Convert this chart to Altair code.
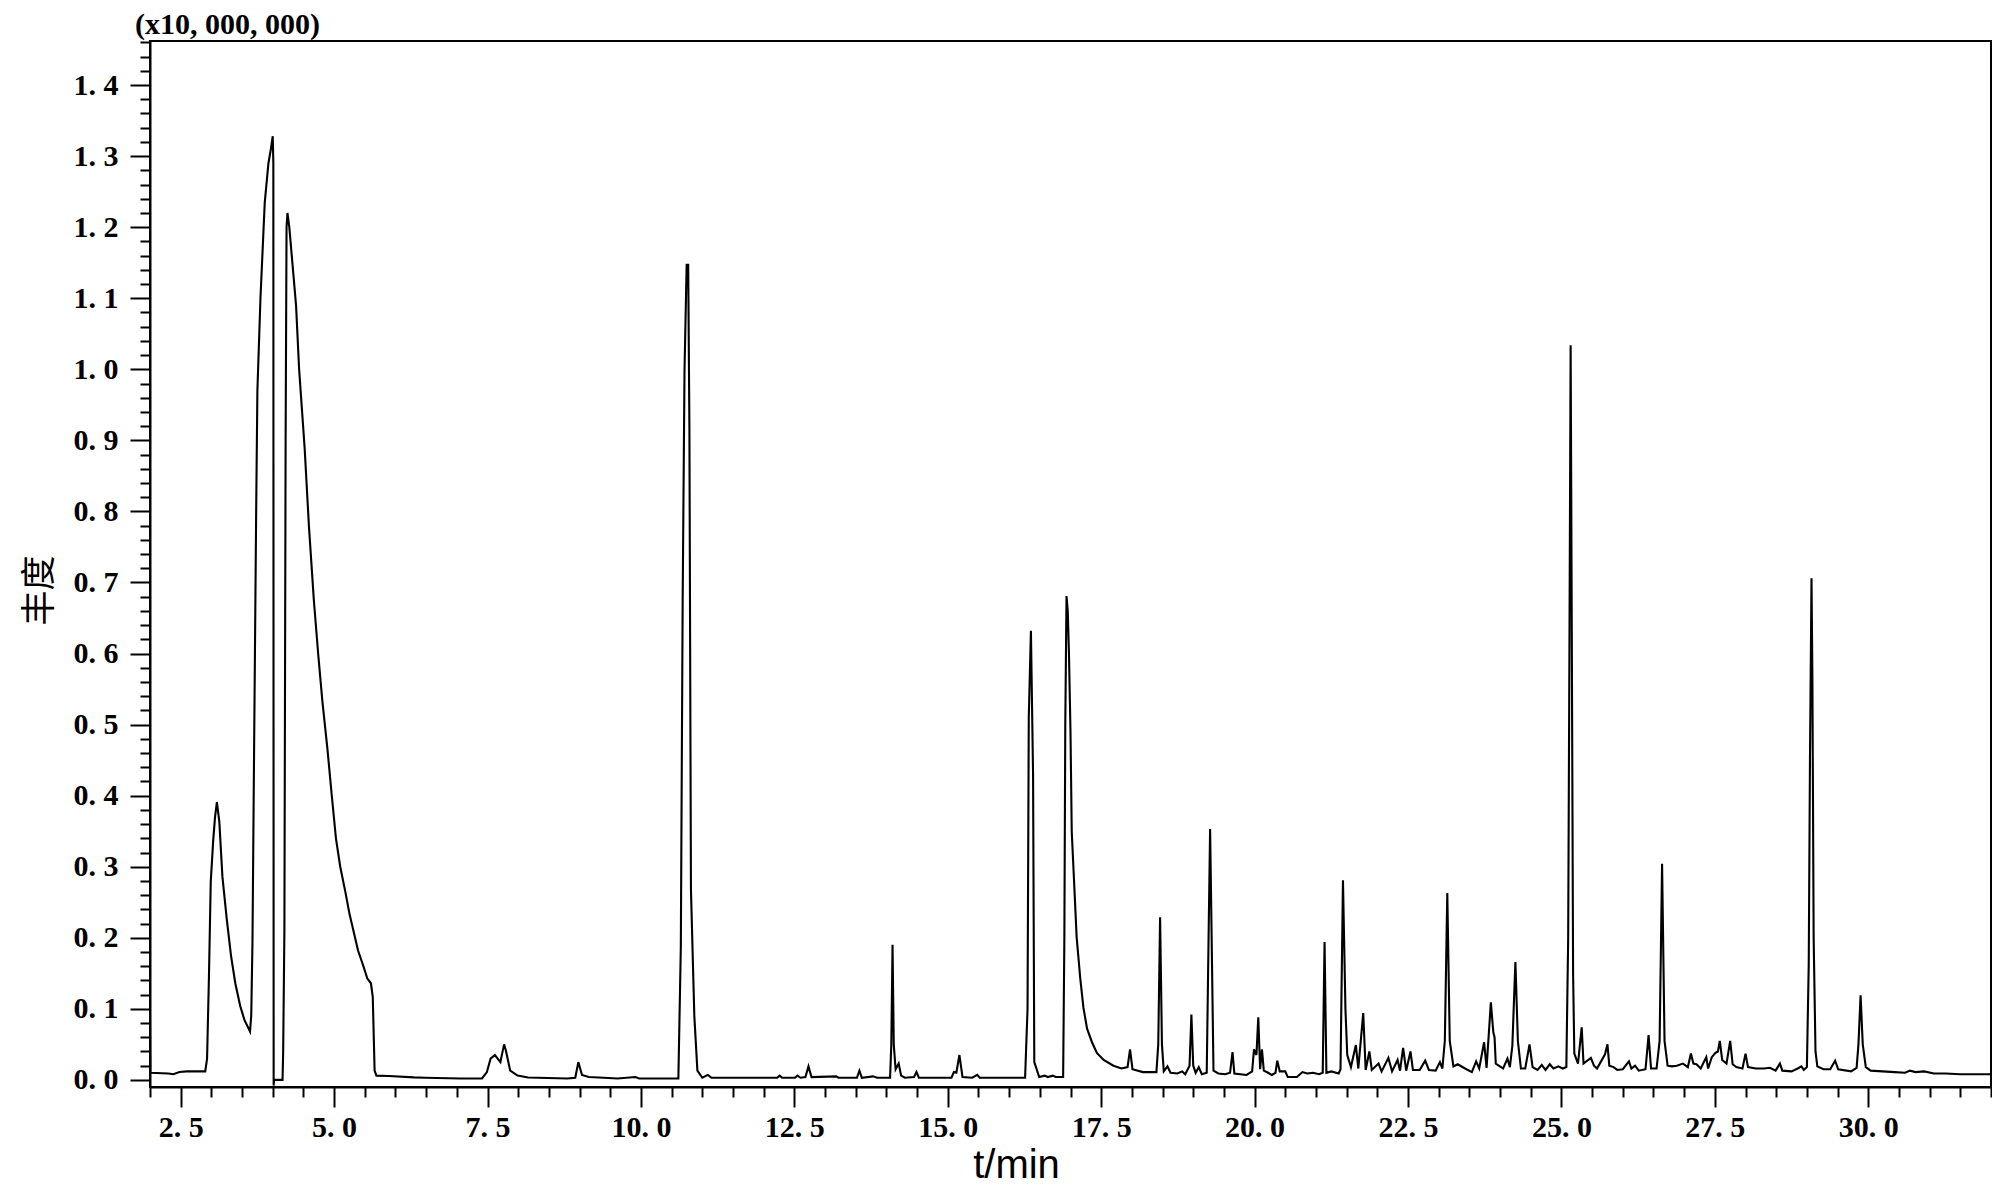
import altair as alt
import pandas as pd

# retention time (min)
t_min = [
    2.00, 2.005, 2.30, 2.38, 2.48, 2.60, 2.90, 2.93, 2.96, 2.99, 3.03, 3.06, 3.09, 3.13, 3.18,
    3.25, 3.32, 3.39, 3.47, 3.54, 3.63, 3.65, 3.67, 3.69, 3.71, 3.73, 3.75, 3.80, 3.87, 3.93,
    3.97, 4.00, 4.01, 4.015, 4.02, 4.16, 4.17, 4.19, 4.21, 4.225, 4.24, 4.27, 4.32, 4.38, 4.43,
    4.52, 4.59, 4.67, 4.74, 4.81, 4.89, 4.96, 5.03, 5.10, 5.18, 5.25, 5.32, 5.39, 5.47, 5.54,
    5.60, 5.63, 5.66, 5.69, 5.89, 6.30, 6.48, 7.06, 7.41, 7.49, 7.55, 7.62, 7.71, 7.77, 7.80,
    7.87, 7.99, 8.16, 8.80, 8.93, 8.98, 9.04, 9.15, 9.39, 9.62, 9.91, 9.97, 10.61, 10.65, 10.68,
    10.71, 10.745, 10.77, 10.79, 10.815, 10.87, 10.92, 11.00, 11.09, 11.15, 12.22, 12.26, 12.30, 12.51, 12.55,
    12.60, 12.68, 12.73, 12.78, 13.18, 13.22, 13.52, 13.56, 13.60, 13.78, 13.85, 14.06, 14.08, 14.10, 14.12,
    14.15, 14.20, 14.24, 14.30, 14.45, 14.49, 14.53, 15.06, 15.10, 15.14, 15.19, 15.24, 15.40, 15.48, 15.52,
    16.26, 16.30, 16.32, 16.355, 16.39, 16.41, 16.49, 16.58, 16.63, 16.71, 16.76, 16.88, 16.90, 16.915, 16.935,
    16.955, 16.975, 17.00, 17.02, 17.06, 17.10, 17.16, 17.21, 17.27, 17.35, 17.43, 17.54, 17.70, 17.83, 17.93,
    17.97, 18.01, 18.18, 18.40, 18.43, 18.46, 18.49, 18.52, 18.58, 18.63, 18.74, 18.82, 18.87, 18.94, 18.97,
    19.00, 19.04, 19.09, 19.14, 19.22, 19.25, 19.275, 19.30, 19.33, 19.41, 19.52, 19.60, 19.64, 19.67, 19.87,
    19.96, 19.99, 20.03, 20.06, 20.09, 20.12, 20.15, 20.22, 20.28, 20.34, 20.37, 20.41, 20.50, 20.54, 20.69,
    20.78, 20.86, 20.95, 21.05, 21.11, 21.14, 21.17, 21.25, 21.37, 21.40, 21.44, 21.48, 21.51, 21.57, 21.65,
    21.69, 21.77, 21.81, 21.87, 21.91, 22.02, 22.07, 22.18, 22.24, 22.33, 22.37, 22.42, 22.47, 22.54, 22.58,
    22.69, 22.78, 22.84, 22.95, 23.02, 23.06, 23.10, 23.14, 23.18, 23.24, 23.31, 23.43, 23.54, 23.61, 23.66,
    23.74, 23.78, 23.85, 23.89, 23.91, 23.93, 24.05, 24.12, 24.16, 24.20, 24.25, 24.29, 24.34, 24.41, 24.48,
    24.53, 24.61, 24.68, 24.74, 24.81, 24.87, 24.95, 25.02, 25.08, 25.11, 25.13, 25.15, 25.17, 25.19, 25.21,
    25.27, 25.33, 25.36, 25.48, 25.53, 25.58, 25.71, 25.75, 25.78, 25.85, 25.91, 26.00, 26.10, 26.14, 26.20,
    26.26, 26.37, 26.42, 26.46, 26.55, 26.60, 26.64, 26.68, 26.73, 26.80, 26.88, 26.98, 27.06, 27.11, 27.15,
    27.20, 27.27, 27.36, 27.39, 27.45, 27.51, 27.55, 27.58, 27.62, 27.69, 27.75, 27.79, 27.85, 27.95, 28.00,
    28.04, 28.17, 28.30, 28.40, 28.49, 28.56, 28.60, 28.75, 28.85, 28.91, 28.95, 29.00, 29.03, 29.05, 29.075,
    29.09, 29.11, 29.14, 29.17, 29.27, 29.38, 29.46, 29.51, 29.72, 29.81, 29.84, 29.875, 29.91, 29.96, 30.04,
    30.23, 30.43, 30.60, 30.68, 30.77, 30.91, 31.07, 31.26, 31.50, 31.71, 32.00,
]

# abundance (x10,000,000)
abundance = [
    0.087, 0.010, 0.009, 0.008, 0.011, 0.012, 0.012, 0.030, 0.143, 0.279, 0.337, 0.370, 0.391, 0.363, 0.286,
    0.227, 0.175, 0.136, 0.104, 0.084, 0.068, 0.091, 0.195, 0.402, 0.600, 0.800, 0.970, 1.100, 1.235, 1.290,
    1.310, 1.328, 1.290, -0.008, 0.000, 0.000, 0.040, 0.210, 0.900, 1.200, 1.220, 1.200, 1.150, 1.090, 1.000,
    0.889, 0.779, 0.675, 0.600, 0.532, 0.467, 0.402, 0.340, 0.300, 0.266, 0.234, 0.208, 0.182, 0.162, 0.143,
    0.136, 0.117, 0.013, 0.006, 0.0055, 0.0035, 0.003, 0.002, 0.002, 0.011, 0.030, 0.035, 0.025, 0.050, 0.041,
    0.013, 0.006, 0.0033, 0.002, 0.003, 0.025, 0.007, 0.004, 0.003, 0.002, 0.004, 0.002, 0.002, 0.187, 0.674,
    0.998, 1.147, 1.147, 0.917, 0.268, 0.090, 0.013, 0.003, 0.007, 0.003, 0.003, 0.006, 0.003, 0.003, 0.006,
    0.003, 0.004, 0.019, 0.004, 0.005, 0.003, 0.003, 0.013, 0.003, 0.005, 0.003, 0.003, 0.050, 0.190, 0.050,
    0.015, 0.023, 0.006, 0.003, 0.004, 0.011, 0.003, 0.003, 0.011, 0.010, 0.035, 0.004, 0.003, 0.007, 0.003,
    0.003, 0.100, 0.510, 0.632, 0.430, 0.025, 0.004, 0.006, 0.004, 0.006, 0.004, 0.004, 0.200, 0.500, 0.681,
    0.660, 0.600, 0.489, 0.350, 0.276, 0.201, 0.142, 0.102, 0.072, 0.053, 0.038, 0.028, 0.020, 0.016, 0.018,
    0.043, 0.015, 0.011, 0.011, 0.050, 0.229, 0.050, 0.012, 0.019, 0.010, 0.009, 0.012, 0.008, 0.020, 0.092,
    0.020, 0.010, 0.018, 0.008, 0.010, 0.200, 0.353, 0.200, 0.013, 0.009, 0.008, 0.010, 0.039, 0.009, 0.007,
    0.012, 0.043, 0.035, 0.088, 0.015, 0.043, 0.013, 0.010, 0.007, 0.010, 0.027, 0.012, 0.012, 0.004, 0.004,
    0.011, 0.009, 0.010, 0.008, 0.010, 0.194, 0.010, 0.012, 0.009, 0.015, 0.281, 0.100, 0.035, 0.018, 0.049,
    0.016, 0.094, 0.014, 0.040, 0.014, 0.023, 0.012, 0.031, 0.012, 0.028, 0.013, 0.045, 0.013, 0.040, 0.014,
    0.014, 0.027, 0.014, 0.013, 0.025, 0.016, 0.055, 0.263, 0.055, 0.019, 0.022, 0.016, 0.011, 0.026, 0.016,
    0.053, 0.017, 0.109, 0.067, 0.060, 0.023, 0.016, 0.030, 0.018, 0.048, 0.166, 0.055, 0.016, 0.016, 0.050,
    0.018, 0.014, 0.021, 0.014, 0.022, 0.016, 0.019, 0.016, 0.018, 0.200, 0.600, 1.034, 0.600, 0.150, 0.037,
    0.023, 0.074, 0.023, 0.031, 0.020, 0.016, 0.036, 0.050, 0.020, 0.018, 0.014, 0.015, 0.026, 0.016, 0.020,
    0.013, 0.015, 0.063, 0.016, 0.016, 0.055, 0.304, 0.055, 0.020, 0.019, 0.020, 0.023, 0.018, 0.037, 0.023,
    0.022, 0.016, 0.032, 0.016, 0.032, 0.038, 0.040, 0.055, 0.028, 0.023, 0.055, 0.022, 0.018, 0.016, 0.037,
    0.018, 0.016, 0.016, 0.017, 0.013, 0.023, 0.013, 0.012, 0.016, 0.019, 0.014, 0.018, 0.163, 0.451, 0.706,
    0.558, 0.200, 0.040, 0.019, 0.015, 0.015, 0.027, 0.015, 0.012, 0.017, 0.050, 0.119, 0.050, 0.018, 0.013,
    0.012, 0.011, 0.010, 0.013, 0.011, 0.012, 0.009, 0.009, 0.008, 0.008, 0.008,
]

# axis tick positions: minor and major
x_ticks = [round(2.0 + 0.5 * i, 1) for i in range(61)]
y_ticks = [round(0.02 * i, 2) for i in range(74)]

scale_label = ["(x10, 000, 000)"]

df = pd.DataFrame({"t": t_min, "v": abundance})
label_df = pd.DataFrame({"label": scale_label})

x_major = "abs(datum.value / 2.5 - round(datum.value / 2.5)) < 0.001"
y_major = "abs(datum.value * 10 - round(datum.value * 10)) < 0.001"

x_axis = alt.Axis(
    values=x_ticks,
    title="t/min",
    titleFont="Liberation Sans",
    titleFontSize=40,
    titleFontWeight="normal",
    titleColor="black",
    titleX=866,
    titleY=58,
    titleBaseline="top",
    labelExpr=f"{x_major} ? replace(format(datum.value, '.1f'), '.', '. ') : ''",
    labelFont="Liberation Serif",
    labelFontSize=30,
    labelFontWeight="bold",
    labelColor="black",
    labelPadding=5,
    labelOverlap=False,
    labelFlush=False,
    tickSize={"condition": {"test": x_major, "value": 20}, "value": 10},
    tickColor="black",
    tickWidth=2,
    domainColor="black",
    domainWidth=2,
    grid=False,
)

y_axis = alt.Axis(
    values=y_ticks,
    title="丰度",
    titleFont="Noto Sans CJK SC",
    titleFontSize=35,
    titleFontWeight="normal",
    titleColor="black",
    titleX=-111,
    titleY=549,
    titleBaseline="middle",
    titleAlign="center",
    labelExpr=f"{y_major} ? replace(format(datum.value, '.1f'), '.', '. ') : ''",
    labelFont="Liberation Serif",
    labelFontSize=30,
    labelFontWeight="bold",
    labelColor="black",
    labelPadding=12,
    labelOverlap=False,
    labelFlush=False,
    tickSize={"condition": {"test": y_major, "value": 20}, "value": 10},
    tickColor="black",
    tickWidth=2,
    domainColor="black",
    domainWidth=2,
    grid=False,
)

trace = (
    alt.Chart(df)
    .mark_line(color="black", strokeWidth=2.1, clip=True)
    .encode(
        x=alt.X("t:Q", scale=alt.Scale(domain=[2.0, 32.0], nice=False, zero=False), axis=x_axis),
        y=alt.Y("v:Q", scale=alt.Scale(domain=[-0.01, 1.462], nice=False, zero=False), axis=y_axis),
    )
)

scale_text = (
    alt.Chart(label_df)
    .mark_text(
        align="left",
        baseline="alphabetic",
        font="Liberation Serif",
        fontSize=30,
        fontWeight="bold",
        color="black",
    )
    .encode(x=alt.value(-15), y=alt.value(-7), text="label:N")
)

chart = (
    alt.layer(trace, scale_text)
    .properties(
        width=1841,
        height=1046,
        autosize=alt.AutoSizeParams(type="none"),
        padding={"left": 142, "top": 33, "right": 1, "bottom": 100},
        background="white",
    )
    .configure_view(stroke="black", strokeWidth=2)
)

chart.save("out.html", embed_options={"renderer": "svg", "actions": False})
